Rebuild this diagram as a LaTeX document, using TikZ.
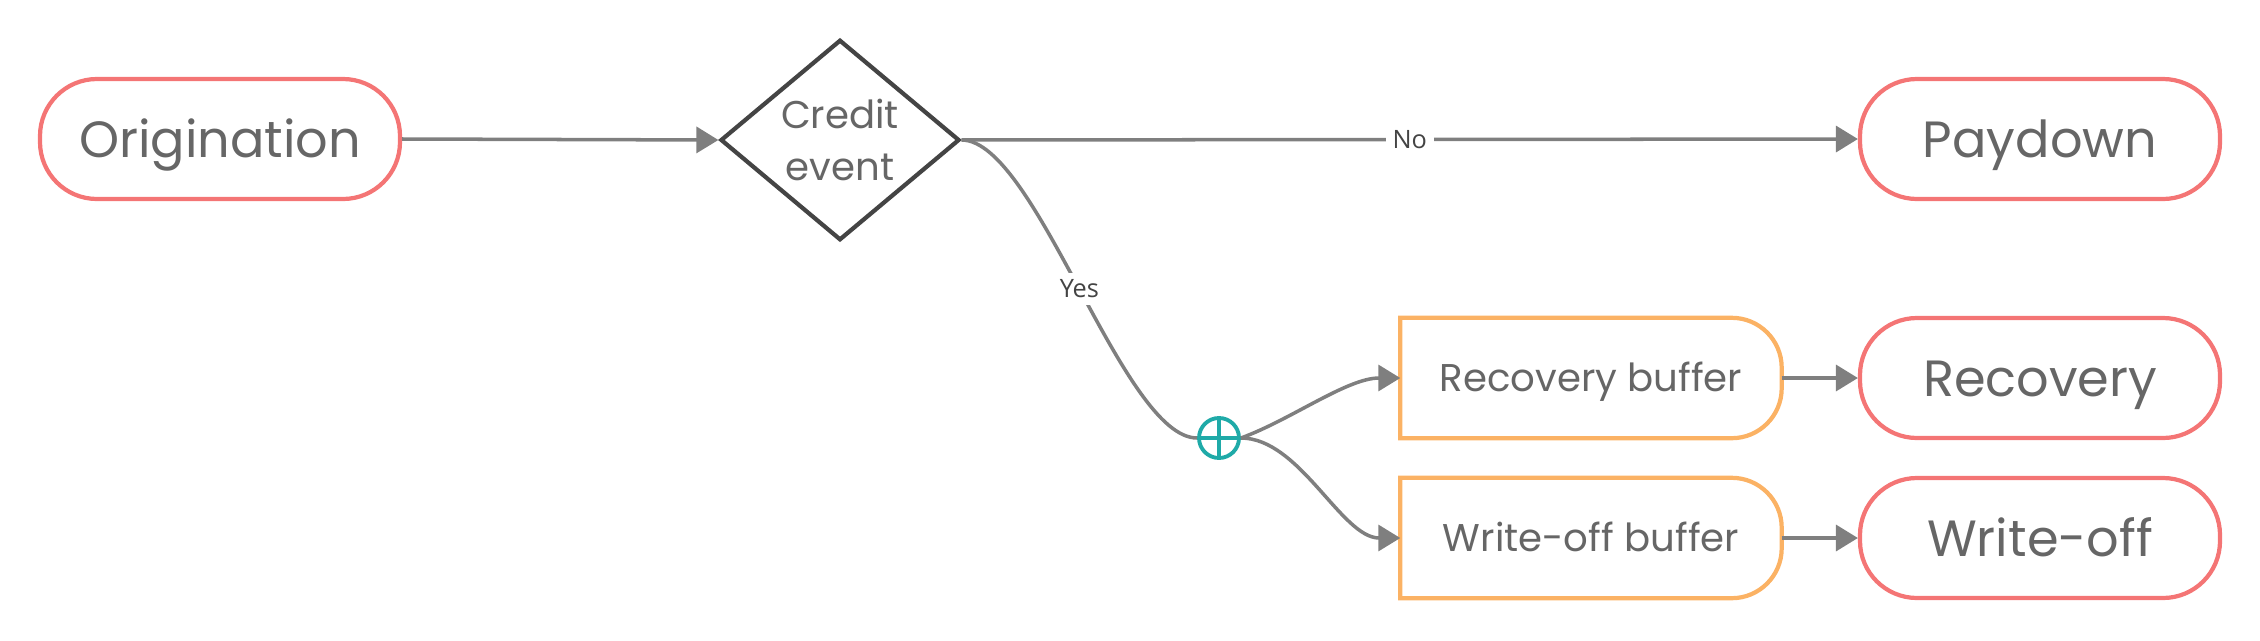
\documentclass[tikz,border=0pt]{standalone}
\usepackage{fontspec}
\setmainfont{Poppins}
\newfontfamily\labelfont{Open Sans}
\usetikzlibrary{shapes.geometric,arrows.meta}
\definecolor{termred}{HTML}{F47575}
\definecolor{buforange}{HTML}{FBB264}
\definecolor{textgray}{HTML}{666666}
\definecolor{diagray}{HTML}{444444}
\definecolor{linegray}{HTML}{7F7F7F}
\definecolor{labelgray}{HTML}{444444}
\definecolor{junctteal}{HTML}{1FAAA8}
\begin{document}
\begin{tikzpicture}[
  terminal/.style={draw=termred,line width=1.2pt,rounded corners=0.57cm,minimum width=3.6cm,minimum height=1.2cm,
    text=textgray,text height=0.36cm,text depth=0pt,font=\fontsize{14.5}{17}\selectfont},
  buffer/.style={inner sep=0,minimum width=3.8cm,minimum height=1.19cm,text=textgray,
    text height=0.27cm,text depth=0pt,font=\fontsize{11}{13}\selectfont},
  bufline/.style={draw=buforange,line width=1.2pt},
  flow/.style={draw=linegray,line width=1pt,-{Triangle[length=0.22cm,width=0.26cm]}},
  plainflow/.style={draw=linegray,line width=1pt},
  edgelabel/.style={fill=white,text=labelgray,font=\labelfont\fontsize{7.2}{8}\selectfont,inner sep=2pt}
]
\useasboundingbox (0,0) rectangle (22.6,6.4);

% terminals
\node[terminal] (orig) at (2.20,5.01) {Origination};
\node[terminal] (pay) at (20.40,5.01) {Paydown};
\node[terminal] (rec) at (20.40,2.62) {Recovery};
\node[terminal] (wo) at (20.40,1.02) {Write-off};

% decision
\node[diamond,draw=diagray,line width=1.2pt,inner sep=0,minimum width=2.39cm,minimum height=1.99cm,
  align=center,text=textgray,font=\fontsize{11}{15}\selectfont] (credit) at (8.40,5.00) {Credit\\event};

% buffers, square on the left and rounded on the right
\node[buffer] (recbuf) at (15.91,2.62) {Recovery buffer};
\node[buffer] (wobuf) at (15.91,1.02) {Write-off buffer};
\foreach \b in {recbuf,wobuf}{
  \draw[bufline] (\b.north west) -- ([xshift=-0.5cm]\b.north east)
    arc[start angle=90,end angle=0,radius=0.5cm] -- ([yshift=0.5cm]\b.south east)
    arc[start angle=0,end angle=-90,radius=0.5cm] -- (\b.south west) -- cycle;
}

% junction
\node[circle,draw=junctteal,line width=1.1pt,minimum size=0.4cm,inner sep=0] (junc) at (12.19,2.02) {};
\draw[junctteal,line width=1.1pt] (junc.north) -- (junc.south) (junc.west) -- (junc.east);

% connectors
\draw[flow] (orig.east) -- (credit.west);
\draw[flow] (credit.east) -- node[edgelabel]{No} (pay.west);
\draw[plainflow] (credit.east) to[out=0,in=180,looseness=0.5] node[edgelabel]{Yes} (junc.west);
\draw[flow] (junc.east) to[out=20,in=180,looseness=0.8] (recbuf.west);
\draw[flow] (junc.east) to[out=0,in=180,looseness=0.8] (wobuf.west);
\draw[flow] (recbuf.east) -- (rec.west);
\draw[flow] (wobuf.east) -- (wo.west);
\end{tikzpicture}
\end{document}
